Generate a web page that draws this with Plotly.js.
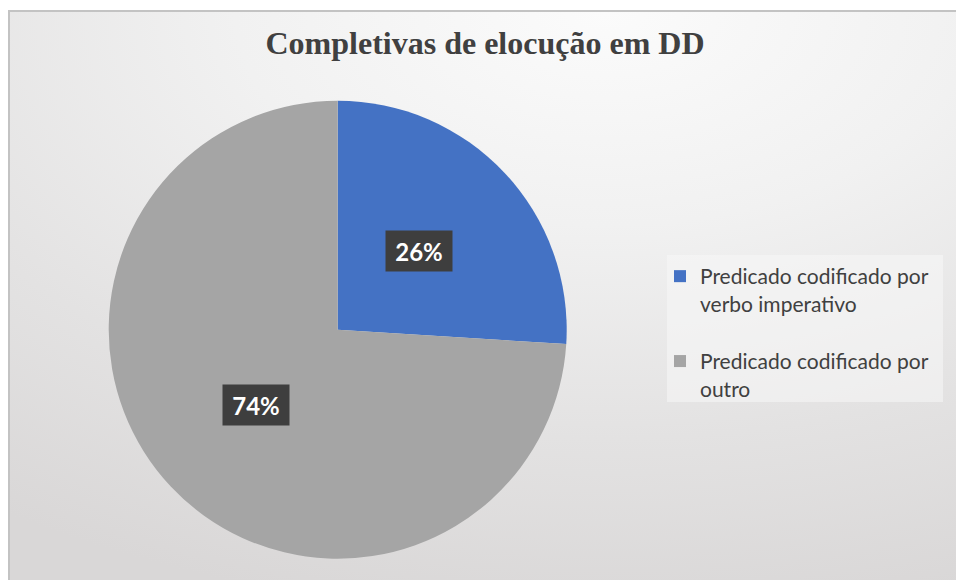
<!DOCTYPE html>
<html>
<head>
<meta charset="utf-8">
<script src="https://cdn.plot.ly/plotly-3.0.1.min.js"></script>
<style>
  html, body { margin: 0; padding: 0; width: 956px; height: 580px; overflow: hidden; background: #ffffff; }
  #frame { position: absolute; left: 8px; top: 10px; width: 960px; height: 580px;
           border-left: 2px solid #c3c3c3; border-top: 2px solid #c3c3c3;
           background: radial-gradient(ellipse 110% 105% at 62% 0%, #fbfbfb 0%, #f1f1f1 35%, #e3e2e2 70%, #d9d7d7 100%); }
  #chart { position: absolute; left: 0; top: 0; width: 956px; height: 580px; }
</style>
</head>
<body>
<div id="frame"></div>
<div id="chart"></div>
<script>
const categories = ["Predicado codificado por<br>verbo imperativo", "Predicado codificado por<br>outro"];
const values = [26, 74];
const percentLabels = ["26%", "74%"];
const sliceColors = ["#4472c4", "#a5a5a5"];

const W = 956, H = 580;
const cxPx = 337.7, cyPx = 329.7, Rpx = 229;

const domainX = [(cxPx - Rpx) / W, (cxPx + Rpx) / W];
const domainY = [1 - (cyPx + Rpx) / H, 1 - (cyPx - Rpx) / H];

// label positions derived from the slice values (mid-angle, half radius)
const total = values.reduce((a, b) => a + b, 0);
let cum = 0;
const annotations = values.map((v, i) => {
  const mid = (cum + v / 2) / total * 2 * Math.PI; // clockwise from 12 o'clock
  cum += v;
  const px = cxPx + 0.49 * Rpx * Math.sin(mid);
  const py = cyPx - 0.49 * Rpx * Math.cos(mid) - 2;
  return {
    xref: "paper", yref: "paper", x: px / W, y: 1 - py / H,
    xanchor: "center", yanchor: "middle", showarrow: false,
    text: "<b>" + percentLabels[i] + "</b>",
    font: { family: "Lato, 'Open Sans', sans-serif", size: 24, color: "#ffffff" },
    bgcolor: "#3e3e3e", width: 62, height: 36, borderpad: 2
  };
});

const data = [{
  type: "pie",
  labels: categories.map(c => c + "<br> "),
  values: values,
  sort: false,
  direction: "clockwise",
  rotation: 0,
  marker: { colors: sliceColors, line: { width: 0 } },
  textinfo: "none",
  hoverinfo: "label+percent",
  domain: { x: domainX, y: domainY }
}];

const layout = {
  width: W, height: H, autosize: false,
  margin: { l: 0, r: 0, t: 0, b: 0 },
  paper_bgcolor: "rgba(0,0,0,0)",
  plot_bgcolor: "rgba(0,0,0,0)",
  title: {
    text: "<b>Completivas de elocução em DD</b>",
    font: { family: "'Liberation Serif', 'Times New Roman', serif", size: 32, color: "#404040" },
    x: 485 / W, xanchor: "center", xref: "paper",
    y: 1 - 43 / H, yanchor: "middle", yref: "container"
  },
  showlegend: true,
  legend: {
    x: 660 / W, xanchor: "left",
    y: 1 - 256 / H, yanchor: "top",
    bgcolor: "rgba(0,0,0,0)",
    font: { family: "Lato, 'Open Sans', sans-serif", size: 21, color: "#404040" },
    valign: "top",
    traceorder: "normal"
  },
  shapes: [{
    type: "rect", xref: "paper", yref: "paper", layer: "below",
    x0: 667 / W, x1: 943 / W, y0: 1 - 402 / H, y1: 1 - 255 / H,
    fillcolor: "rgba(248,248,248,0.55)", line: { width: 0 }
  }],
  annotations: annotations
};

Plotly.newPlot("chart", data, layout, { displayModeBar: false, staticPlot: true });
</script>
</body>
</html>
